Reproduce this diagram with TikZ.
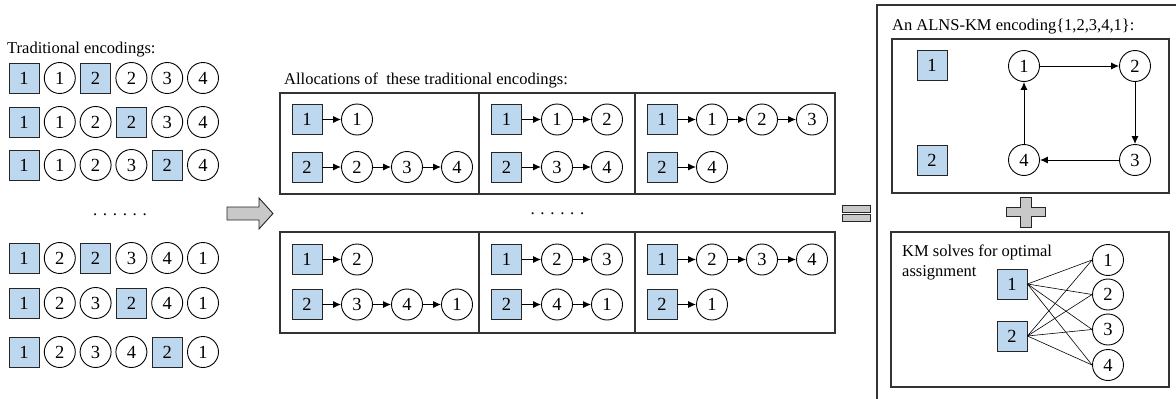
\documentclass[tikz,border=0pt]{standalone}
\usepackage{fontspec}
\setmainfont{Liberation Serif}
\usetikzlibrary{arrows.meta}
\definecolor{sqblue}{HTML}{BDD7EE}
\definecolor{boxgray}{HTML}{333333}
\definecolor{shapegray}{HTML}{C8C8C8}
\tikzset{
 sqbox/.style={draw=black!85, line width=0.9pt, fill=sqblue, minimum size=30pt, inner sep=0pt, font=\rmfamily\fontsize{18.5}{18.5}\selectfont},
 cnode/.style={circle, draw=black, line width=0.9pt, fill=white, minimum size=31pt, inner sep=0pt, font=\rmfamily\fontsize{18.5}{18.5}\selectfont},
 lbl/.style={anchor=base west, inner sep=0pt, font=\rmfamily\fontsize{16.5}{20}\selectfont},
 dotsl/.style={anchor=base, inner sep=0pt, font=\rmfamily\fontsize{17}{20}\selectfont},
 frame/.style={draw=boxgray, line width=1.1pt},
 link/.style={-{Latex[length=8pt,width=7pt]}, line width=1pt},
 bigshape/.style={draw=black!85, line width=0.9pt, fill=shapegray},
 kmline/.style={line width=0.6pt},
}
\begin{document}
\begin{tikzpicture}[x=1pt,y=-1pt]
\useasboundingbox (0,0) rectangle (1176,399);

% ---------- left: traditional encodings ----------
\node[lbl] (tlab) at (7,53) {Traditional encodings:};
% row a
\node[sqbox] (a1) at (24,78) {1};
\node[cnode] (a2) at (59.8,78) {1};
\node[sqbox] (a3) at (95.6,78) {2};
\node[cnode] (a4) at (131.4,78) {2};
\node[cnode] (a5) at (167.2,78) {3};
\node[cnode] (a6) at (203,78) {4};
% row b
\node[sqbox] (b1) at (24,122) {1};
\node[cnode] (b2) at (59.8,122) {1};
\node[cnode] (b3) at (95.6,122) {2};
\node[sqbox] (b4) at (131.4,122) {2};
\node[cnode] (b5) at (167.2,122) {3};
\node[cnode] (b6) at (203,122) {4};
% row c
\node[sqbox] (c1) at (24,165) {1};
\node[cnode] (c2) at (59.8,165) {1};
\node[cnode] (c3) at (95.6,165) {2};
\node[cnode] (c4) at (131.4,165) {3};
\node[sqbox] (c5) at (167.2,165) {2};
\node[cnode] (c6) at (203,165) {4};
% dots
\node[dotsl] (ldots) at (120,215) {. . . . . .};
% row d
\node[sqbox] (d1) at (24,258) {1};
\node[cnode] (d2) at (59.8,258) {2};
\node[sqbox] (d3) at (95.6,258) {2};
\node[cnode] (d4) at (131.4,258) {3};
\node[cnode] (d5) at (167.2,258) {4};
\node[cnode] (d6) at (203,258) {1};
% row e
\node[sqbox] (e1) at (24,303) {1};
\node[cnode] (e2) at (59.8,303) {2};
\node[cnode] (e3) at (95.6,303) {3};
\node[sqbox] (e4) at (131.4,303) {2};
\node[cnode] (e5) at (167.2,303) {4};
\node[cnode] (e6) at (203,303) {1};
% row f
\node[sqbox] (f1) at (24,352) {1};
\node[cnode] (f2) at (59.8,352) {2};
\node[cnode] (f3) at (95.6,352) {3};
\node[cnode] (f4) at (131.4,352) {4};
\node[sqbox] (f5) at (167.2,352) {2};
\node[cnode] (f6) at (203,352) {1};

% ---------- big arrow ----------
\draw[bigshape] (227,207) -- (259,207) -- (259,198) -- (273,213.5) -- (259,229) -- (259,220) -- (227,220) -- cycle;

% ---------- middle: allocations ----------
\node[lbl] (mlab) at (284,84.5) {Allocations of\ \ these traditional encodings:};
\draw[frame] (280,93) rectangle (835,194);
\draw[frame] (479,93) -- (479,194);
\draw[frame] (635,93) -- (635,194);
\draw[frame] (280,232) rectangle (835,333);
\draw[frame] (479,232) -- (479,333);
\draw[frame] (635,232) -- (635,333);

% top box 1
\node[sqbox] (p1s1) at (307,119.5) {1};
\node[cnode] (p1a1) at (357,119.5) {1};
\node[sqbox] (p1s2) at (307,167) {2};
\node[cnode] (p1b1) at (357,167) {2};
\node[cnode] (p1b2) at (407,167) {3};
\node[cnode] (p1b3) at (457,167) {4};
\draw[link] (p1s1) -- (p1a1);
\draw[link] (p1s2) -- (p1b1);
\draw[link] (p1b1) -- (p1b2);
\draw[link] (p1b2) -- (p1b3);
% top box 2
\node[sqbox] (p2s1) at (506.5,119.5) {1};
\node[cnode] (p2a1) at (557,119.5) {1};
\node[cnode] (p2a2) at (607,119.5) {2};
\node[sqbox] (p2s2) at (506.5,167) {2};
\node[cnode] (p2b1) at (557,167) {3};
\node[cnode] (p2b2) at (607,167) {4};
\draw[link] (p2s1) -- (p2a1);
\draw[link] (p2a1) -- (p2a2);
\draw[link] (p2s2) -- (p2b1);
\draw[link] (p2b1) -- (p2b2);
% top box 3
\node[sqbox] (p3s1) at (662,119.5) {1};
\node[cnode] (p3a1) at (712,119.5) {1};
\node[cnode] (p3a2) at (762,119.5) {2};
\node[cnode] (p3a3) at (812,119.5) {3};
\node[sqbox] (p3s2) at (662,167) {2};
\node[cnode] (p3b1) at (712,167) {4};
\draw[link] (p3s1) -- (p3a1);
\draw[link] (p3a1) -- (p3a2);
\draw[link] (p3a2) -- (p3a3);
\draw[link] (p3s2) -- (p3b1);

\node[dotsl] (mdots) at (557.5,214) {. . . . . .};

% bottom box 1
\node[sqbox] (q1s1) at (307,259.5) {1};
\node[cnode] (q1a1) at (357,259.5) {2};
\node[sqbox] (q1s2) at (307,304.5) {2};
\node[cnode] (q1b1) at (357,304.5) {3};
\node[cnode] (q1b2) at (407,304.5) {4};
\node[cnode] (q1b3) at (457,304.5) {1};
\draw[link] (q1s1) -- (q1a1);
\draw[link] (q1s2) -- (q1b1);
\draw[link] (q1b1) -- (q1b2);
\draw[link] (q1b2) -- (q1b3);
% bottom box 2
\node[sqbox] (q2s1) at (506.5,259.5) {1};
\node[cnode] (q2a1) at (557,259.5) {2};
\node[cnode] (q2a2) at (607,259.5) {3};
\node[sqbox] (q2s2) at (506.5,304.5) {2};
\node[cnode] (q2b1) at (557,304.5) {4};
\node[cnode] (q2b2) at (607,304.5) {1};
\draw[link] (q2s1) -- (q2a1);
\draw[link] (q2a1) -- (q2a2);
\draw[link] (q2s2) -- (q2b1);
\draw[link] (q2b1) -- (q2b2);
% bottom box 3
\node[sqbox] (q3s1) at (662,259.5) {1};
\node[cnode] (q3a1) at (712,259.5) {2};
\node[cnode] (q3a2) at (762,259.5) {3};
\node[cnode] (q3a3) at (812,259.5) {4};
\node[sqbox] (q3s2) at (662,304.5) {2};
\node[cnode] (q3b1) at (712,304.5) {1};
\draw[link] (q3s1) -- (q3a1);
\draw[link] (q3a1) -- (q3a2);
\draw[link] (q3a2) -- (q3a3);
\draw[link] (q3s2) -- (q3b1);

% ---------- equals ----------
\draw[bigshape] (842,205) rectangle (870,212);
\draw[bigshape] (842,214.5) rectangle (870,221.5);

% ---------- right ----------
\draw[frame] (877,5) rectangle (1195,420);
\node[lbl] (rlab) at (892,30) {An ALNS-KM encoding\{1,2,3,4,1\}:};
\draw[frame] (892,39) rectangle (1169,193);
\node[sqbox] (r1) at (932,65) {1};
\node[sqbox] (r2) at (932,160) {2};
\node[cnode] (rc1) at (1024,66) {1};
\node[cnode] (rc2) at (1135,66) {2};
\node[cnode] (rc3) at (1135,160) {3};
\node[cnode] (rc4) at (1024,160) {4};
\draw[link] (rc1) -- (rc2);
\draw[link] (rc2) -- (rc3);
\draw[link] (rc3) -- (rc4);
\draw[link] (rc4) -- (rc1);

% plus
\draw[bigshape] (1020,197) -- (1031,197) -- (1031,207.5) -- (1045,207.5) -- (1045,216.5) -- (1031,216.5) -- (1031,227) -- (1020,227) -- (1020,216.5) -- (1006,216.5) -- (1006,207.5) -- (1020,207.5) -- cycle;

\draw[frame] (891,232) rectangle (1169,387);
\node[anchor=north west, inner sep=0pt, align=left, font=\rmfamily\fontsize{16.5}{20}\selectfont] (kmlab) at (902,244.5) {KM solves for optimal\\assignment};
\node[sqbox] (k1) at (1012,284) {1};
\node[sqbox] (k2) at (1012,336) {2};
\node[cnode] (kc1) at (1108,260) {1};
\node[cnode] (kc2) at (1108,294.5) {2};
\node[cnode] (kc3) at (1108,329.5) {3};
\node[cnode] (kc4) at (1108,365) {4};
\foreach \s in {k1,k2}{
  \foreach \c in {kc1,kc2,kc3,kc4}{
    \draw[kmline] (\s.east) -- (\c.west);
  }
}
\end{tikzpicture}
\end{document}
